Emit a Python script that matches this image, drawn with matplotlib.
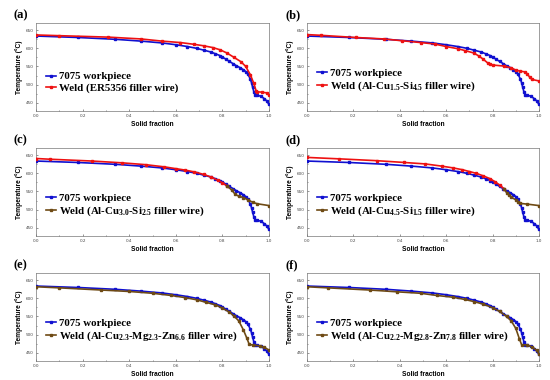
import matplotlib
matplotlib.use("Agg")
import matplotlib.pyplot as plt
from matplotlib.ticker import MultipleLocator

plt.rcParams['mathtext.fontset'] = 'custom'
plt.rcParams['mathtext.rm'] = 'Liberation Serif:bold'
plt.rcParams['mathtext.it'] = 'Liberation Serif:bold'
plt.rcParams['mathtext.bf'] = 'Liberation Serif:bold'

# 7075 workpiece (same in every panel)
fs_7075 = [0, 0.18, 0.34, 0.45, 0.54, 0.60, 0.65, 0.69, 0.72, 0.75, 0.77, 0.79, 0.80, 0.815,
           0.83, 0.845, 0.86, 0.875, 0.89, 0.90, 0.91, 0.92, 0.925, 0.93, 0.935, 0.94, 0.95,
           0.965, 0.98, 0.99, 1.0]
T_7075 = [634, 630, 625, 620, 615, 610, 605, 600, 595, 590, 585, 580, 576, 570,
          564, 558, 552, 547, 541, 536, 528, 515, 505, 492, 480, 472, 470,
          468, 461, 455, 445]

# (a) ER5356
fs_a = [0, 0.10, 0.31, 0.45, 0.54, 0.62, 0.68, 0.72, 0.76, 0.79, 0.82, 0.85, 0.88, 0.90,
        0.92, 0.935, 0.945, 0.95, 0.97, 0.99, 1.0]
T_a = [637, 635, 631, 626, 620, 616, 611, 607, 602, 596, 587, 575, 563, 550,
       527, 503, 482, 480, 479, 477, 471]

# (b) Al-Cu1.5-Si4.5
fs_b = [0, 0.06, 0.21, 0.33, 0.41, 0.49, 0.55, 0.60, 0.65, 0.68, 0.72, 0.74, 0.76, 0.78,
        0.79, 0.80, 0.85, 0.88, 0.90, 0.92, 0.94, 0.95, 0.96, 0.97, 1.0]
T_b = [638, 636, 630, 626, 621, 616, 612, 605, 599, 594, 587, 579, 570, 559,
       556, 554, 551, 546, 540, 537, 535, 529, 520, 514, 510]

# (c) Al-Cu3.0-Si2.5
fs_c = [0, 0.06, 0.24, 0.37, 0.47, 0.55, 0.60, 0.64, 0.68, 0.72, 0.75, 0.78, 0.80, 0.82,
        0.84, 0.855, 0.87, 0.89, 0.91, 0.93, 0.95, 1.0]
T_c = [641, 639, 634, 629, 624, 618, 613, 609, 604, 597, 590, 581, 574, 565,
       554, 542, 537, 533, 527, 520, 516, 511]

# (d) Al-Cu4.5-Si1.5
fs_d = [0, 0.14, 0.30, 0.42, 0.51, 0.58, 0.63, 0.67, 0.70, 0.73, 0.76, 0.79, 0.81, 0.83,
        0.85, 0.86, 0.87, 0.88, 0.90, 0.91, 0.92, 0.95, 1.0]
T_d = [644, 640, 635, 630, 626, 620, 615, 610, 605, 600, 593, 585, 577, 568,
       557, 547, 540, 534, 527, 522, 517, 515, 511]

# (e) Al-Cu2.3-Mg2.3-Zn6.6
fs_e = [0, 0.10, 0.28, 0.40, 0.50, 0.58, 0.64, 0.69, 0.73, 0.77, 0.80, 0.83, 0.85, 0.87,
        0.89, 0.905, 0.915, 0.93, 0.96, 0.98, 1.0]
T_e = [632, 629, 623, 619, 614, 608, 602, 596, 589, 582, 573, 562, 551, 538,
       513, 490, 473, 471, 469, 465, 457]

# (f) Al-Cu2.2-Mg2.8-Zn7.8
fs_f = [0, 0.09, 0.27, 0.39, 0.49, 0.56, 0.63, 0.68, 0.72, 0.76, 0.80, 0.83, 0.86, 0.88,
        0.90, 0.915, 0.925, 0.95, 0.97, 0.99, 1.0]
T_f = [632, 629, 623, 618, 614, 608, 603, 597, 591, 584, 574, 564, 550, 538,
       517, 489, 472, 471, 466, 456, 447]

panel_tags = ['(a)', '(b)', '(c)', '(d)', '(e)', '(f)']
weld_labels = [
    'Weld (ER5356 filler wire)',
    'Weld (Al-Cu$_{1.5}$-Si$_{4.5}$ filler wire)',
    'Weld (Al-Cu$_{3.0}$-Si$_{2.5}$ filler wire)',
    'Weld (Al-Cu$_{4.5}$-Si$_{1.5}$ filler wire)',
    'Weld (Al-Cu$_{2.3}$-Mg$_{2.3}$-Zn$_{6.6}$ filler wire)',
    'Weld (Al-Cu$_{2.2}$-Mg$_{2.8}$-Zn$_{7.8}$ filler wire)',
]
weld_fs = [fs_a, fs_b, fs_c, fs_d, fs_e, fs_f]
weld_T = [T_a, T_b, T_c, T_d, T_e, T_f]
# fraction where weld curve turns from red to brown (None = single colour)
split_at = [None, None, 0.82, 0.85, 0.0, 0.0]

RED = '#ee1111'
BROWN = '#6e4a14'
BLUE = '#1010d0'

fig = plt.figure(figsize=(5.5, 3.8), dpi=100)
W, H = 550.0, 380.0
lefts = [36, 307]
widths = [233, 232]
tops = [23, 148, 273]
ah = 88

for i in range(6):
    r, c = divmod(i, 2)
    ax = fig.add_axes([lefts[c] / W, 1 - (tops[r] + ah) / H, widths[c] / W, ah / H])
    ax.plot(fs_7075, T_7075, '-s', color=BLUE, lw=1.2, ms=1.8, label='7075 workpiece', zorder=3)
    fs, T = weld_fs[i], weld_T[i]
    s = split_at[i]
    if s is None:
        ax.plot(fs, T, '-s', color=RED, lw=1.2, ms=1.8, label=weld_labels[i], zorder=4)
    else:
        hi = [(x, y) for x, y in zip(fs, T) if x <= s]
        lo = [(x, y) for x, y in zip(fs, T) if x >= s]
        if hi and s > 0:
            ax.plot([p[0] for p in hi], [p[1] for p in hi], '-s', color=RED, lw=1.2, ms=1.8, zorder=4)
        ax.plot([p[0] for p in lo], [p[1] for p in lo], '-s', color=BROWN, lw=1.2, ms=1.8, zorder=4)
        ax.plot([], [], '-s', color=BROWN, lw=1.2, ms=1.8, label=weld_labels[i])
    ax.set_xlim(0, 1.0)
    ax.set_ylim(427, 670)
    ax.xaxis.set_major_locator(MultipleLocator(0.2))
    ax.xaxis.set_minor_locator(MultipleLocator(0.1))
    ax.yaxis.set_major_locator(MultipleLocator(50))
    ax.yaxis.set_minor_locator(MultipleLocator(25))
    ax.tick_params(which='both', direction='in', labelsize=3, length=1.5, width=0.4, pad=2,
                   colors='#444444')
    ax.tick_params(which='minor', length=0.8)
    for sp in ax.spines.values():
        sp.set_linewidth(0.5)
        sp.set_color('#777777')
    ax.set_xlabel('Solid fraction', fontsize=4.8, fontweight='bold', family='Liberation Sans', labelpad=2)
    ax.set_ylabel('Temperature (°C)', fontsize=4.8, fontweight='bold', family='Liberation Sans', labelpad=2)
    leg = ax.legend(loc='lower left', bbox_to_anchor=(0.01, 0.12), frameon=False,
                    prop={'family': 'Liberation Serif', 'weight': 'bold', 'size': 7.8},
                    handlelength=0.95, handletextpad=0.3, labelspacing=0.15, borderpad=0.2)
    fig.text((lefts[c] - 22) / W, 1 - (tops[r] - 8) / H, panel_tags[i], fontsize=9,
             fontweight='bold', family='Liberation Serif', va='center', ha='left')

fig.savefig('out.png', dpi=100)
